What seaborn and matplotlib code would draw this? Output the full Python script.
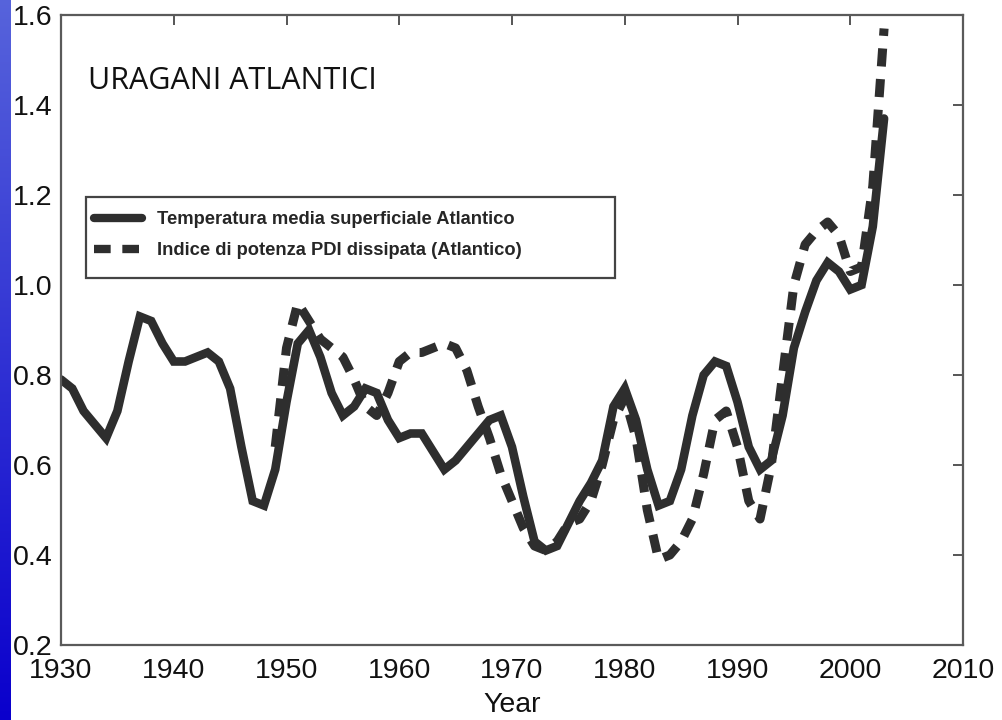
import numpy as np
import pandas as pd
import matplotlib
matplotlib.use("Agg")
import matplotlib.pyplot as plt
import seaborn as sns
from matplotlib.lines import Line2D
from matplotlib.patches import Rectangle

# Dati
sst_years = list(range(1930, 2004))
sst_values = [
    0.79, 0.77, 0.72, 0.69, 0.66, 0.72, 0.83, 0.93, 0.92, 0.87,
    0.83, 0.83, 0.84, 0.85, 0.83, 0.77, 0.64, 0.52, 0.51, 0.59,
    0.74, 0.87, 0.90, 0.84, 0.76, 0.71, 0.73, 0.77, 0.76, 0.70,
    0.66, 0.67, 0.67, 0.63, 0.59, 0.61, 0.64, 0.67, 0.70, 0.71,
    0.64, 0.53, 0.43, 0.41, 0.42, 0.47, 0.52, 0.56, 0.61, 0.73,
    0.77, 0.70, 0.59, 0.51, 0.52, 0.59, 0.71, 0.80, 0.83, 0.82,
    0.74, 0.64, 0.59, 0.61, 0.71, 0.86, 0.94, 1.01, 1.05, 1.03,
    0.99, 1.00, 1.13, 1.37,
]
pdi_years = list(range(1949, 2004))
pdi_values = [
    0.64, 0.86, 0.96, 0.92, 0.88, 0.86, 0.84, 0.79, 0.73, 0.71,
    0.76, 0.83, 0.85, 0.85, 0.86, 0.87, 0.86, 0.81, 0.73, 0.66,
    0.58, 0.52, 0.46, 0.42, 0.41, 0.43, 0.47, 0.48, 0.52, 0.60,
    0.70, 0.75, 0.66, 0.50, 0.39, 0.40, 0.43, 0.48, 0.58, 0.70,
    0.72, 0.64, 0.52, 0.48, 0.60, 0.80, 1.00, 1.09, 1.12, 1.14,
    1.11, 1.03, 1.04, 1.22, 1.57,
]
x_ticks = [1930, 1940, 1950, 1960, 1970, 1980, 1990, 2000, 2010]
y_ticks = [0.2, 0.4, 0.6, 0.8, 1.0, 1.2, 1.4, 1.6]
label_sst = "Temperatura media superficiale Atlantico"
label_pdi = "Indice di potenza PDI dissipata (Atlantico)"
title_text = "URAGANI ATLANTICI"

sns.set_theme(style="white")
plt.rcParams["font.family"] = ["Liberation Sans", "DejaVu Sans"]

W, H = 1003, 720
fig = plt.figure(figsize=(W / 100, H / 100), dpi=100)
fig.patch.set_facecolor("white")

# striscia blu a sinistra
strip = fig.add_axes([0, 0, 11 / W, 1])
top = np.array([0.34, 0.39, 0.86])
bot = np.array([0.04, 0.00, 0.80])
t = np.linspace(0, 1, 256)[:, None]
grad = (top * (1 - t) + bot * t)[:, None, :]
strip.imshow(grad, aspect="auto", extent=[0, 1, 0, 1])
strip.axis("off")

ax = fig.add_axes([61 / W, 1 - 645 / H, (963 - 61) / W, (645 - 15) / H])

line_col = "#2e2e2e"
df_sst = pd.DataFrame({"Year": sst_years, "val": sst_values})
df_pdi = pd.DataFrame({"Year": pdi_years, "val": pdi_values})
sns.lineplot(data=df_sst, x="Year", y="val", ax=ax, color=line_col,
             linewidth=6.2, solid_joinstyle="miter")
sns.lineplot(data=df_pdi, x="Year", y="val", ax=ax, color=line_col,
             linewidth=6.5, dashes=False)
ax.lines[-1].set_dashes((2.0, 1.4))
ax.lines[-1].set_dash_capstyle("butt")

ax.set_xlim(1930, 2010)
ax.set_ylim(0.2, 1.6)
ax.set_xticks(x_ticks)
ax.set_yticks(y_ticks)
ax.set_xticklabels([str(v) for v in x_ticks])
ax.set_yticklabels([f"{v:.1f}" for v in y_ticks])
ax.tick_params(direction="in", length=7, width=1.4, color="#555555",
               top=True, right=True, labelsize=20.5, labelcolor="#111111",
               pad=6)
ax.tick_params(axis="x", pad=9)
for s in ax.spines.values():
    s.set_color("#5a5a5a")
    s.set_linewidth(1.6)
ax.set_xlabel("Year", fontsize=20.5, color="#111111", labelpad=6)
ax.set_ylabel("")
ax.grid(False)

ax.text(88 / W, 1 - 89 / H, title_text, transform=fig.transFigure,
        fontsize=22, family=["Open Sans", "DejaVu Sans"], color="#111111",
        ha="left", va="baseline")

# legenda con cornice disegnata a parte
frame = Rectangle((86 / W, 1 - 278 / H), (615 - 86) / W, (278 - 197) / H,
                  transform=fig.transFigure, fill=True, facecolor="white",
                  edgecolor="#444444", linewidth=1.6, zorder=5)
fig.patches.append(frame)
h1 = Line2D([], [], color=line_col, linewidth=6)
h2 = Line2D([], [], color=line_col, linewidth=6, dashes=(2.0, 1.4),
            dash_capstyle="butt")
leg = fig.legend([h1, h2], [label_sst, label_pdi], loc="upper left",
                 bbox_to_anchor=(89 / W, 1 - 206 / H), frameon=False,
                 prop={"weight": "bold", "size": 13.2}, handlelength=2.6,
                 handletextpad=0.8, labelspacing=0.75, borderpad=0.3,
                 borderaxespad=0)
leg.set_zorder(6)

fig.savefig("out.png", dpi=100)
